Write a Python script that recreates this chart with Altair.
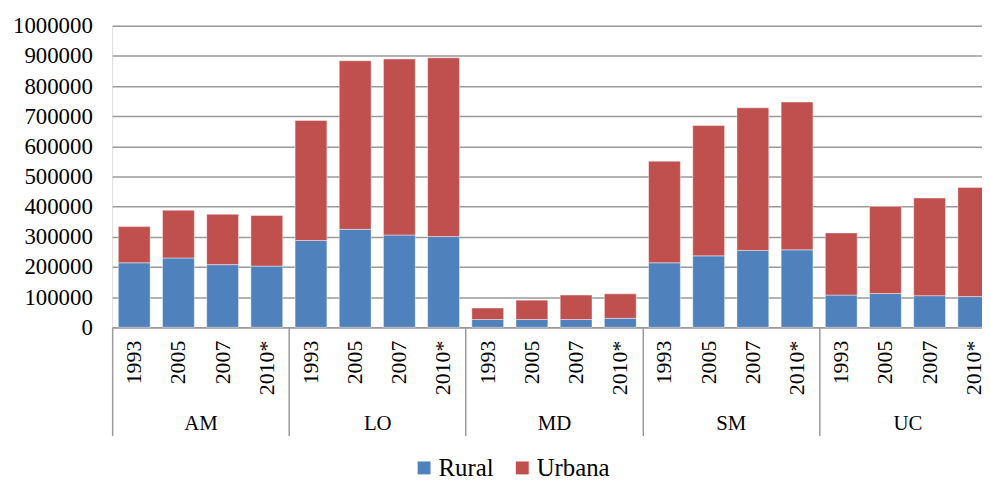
import altair as alt
import pandas as pd

groups = ["AM", "LO", "MD", "SM", "UC"]
years = ["1993", "2005", "2007", "2010*"]
rural = [214000, 230000, 208000, 203000,
         288000, 325000, 306000, 301000,
         26000, 26000, 26000, 30000,
         214000, 237000, 255000, 257000,
         107000, 112000, 105000, 102000]
urbana = [120000, 158000, 167000, 168000,
          398000, 559000, 584000, 593000,
          38000, 64000, 81000, 81000,
          337000, 432000, 473000, 490000,
          206000, 289000, 324000, 362000]
series = ["Rural", "Urbana"]
colors = ["#4F81BD", "#C0504D"]
y_ticks = list(range(0, 1000001, 100000))

rows = []
keys = []
i = 0
for g in groups:
    for yr in years:
        k = f"{g} {yr}"
        keys.append(k)
        rows.append({"key": k, "group": g, "year": yr, "serie": "Rural", "ord": 0, "value": rural[i]})
        rows.append({"key": k, "group": g, "year": yr, "serie": "Urbana", "ord": 1, "value": urbana[i]})
        i += 1
df = pd.DataFrame(rows)
gdf = pd.DataFrame({"group": groups})

FONT = "'Liberation Serif', 'Times New Roman', Times, 'DejaVu Serif', serif"
GRID = "#9a9a9a"
FULL_W = 891   # full plot width of the original (cropped at the right edge)
VIEW_W = 877

bars = alt.Chart(df).mark_bar(stroke="#ffffff", strokeWidth=0.6, strokeOpacity=0.7).encode(
    x=alt.X("key:N", sort=keys,
            scale=alt.Scale(paddingInner=0.28, paddingOuter=0.14, range=[0, FULL_W]),
            axis=alt.Axis(title=None, labelExpr="slice(datum.label, 3)", labelAngle=270,
                          labelFontSize=22, labelPadding=13, ticks=False, tickSize=0,
                          domain=True, domainColor=GRID, domainWidth=1.5,
                          labelColor="#000000", labelFont=FONT, grid=False)),
    y=alt.Y("value:Q", stack="zero",
            scale=alt.Scale(domain=[0, 1000000], nice=False),
            axis=alt.Axis(title=None, values=y_ticks, format="d", labelFontSize=23,
                          labelPadding=20, ticks=False, tickSize=0, domain=False,
                          grid=True, gridColor=GRID, gridWidth=1.5,
                          labelColor="#000000", labelFont=FONT)),
    color=alt.Color("serie:N", sort=series,
                    scale=alt.Scale(domain=series, range=colors),
                    legend=alt.Legend(title=None, orient="none", legendX=302, legendY=433,
                                      direction="horizontal", symbolType="square",
                                      symbolSize=169, symbolStrokeWidth=0,
                                      labelFontSize=25, labelFont=FONT, labelColor="#000000",
                                      labelOffset=2, columnPadding=16)),
    order=alt.Order("ord:Q", sort="ascending"),
)

grp = alt.Chart(gdf).mark_point(opacity=0, size=0).encode(
    x=alt.X("group:N", sort=groups,
            scale=alt.Scale(paddingInner=0, paddingOuter=0, range=[0, FULL_W]),
            axis=alt.Axis(title=None, orient="bottom", tickBand="extent", ticks=True,
                          tickSize=109, tickColor=GRID, tickWidth=1.5, domain=False,
                          grid=False, labelPadding=-12, labelFontSize=21, labelAngle=0,
                          labelBaseline="middle", labelColor="#000000", labelFont=FONT)),
)

chart = alt.layer(bars, grp).resolve_scale(x="independent").resolve_axis(x="independent").properties(
    width=VIEW_W, height=304,
    autosize=alt.AutoSizeParams(type="none"),
    padding={"left": 105, "top": 16, "right": 0, "bottom": 155},
).configure_view(stroke=None).configure(font=FONT)

chart.save("out.html", embed_options={"renderer": "svg", "actions": False})
